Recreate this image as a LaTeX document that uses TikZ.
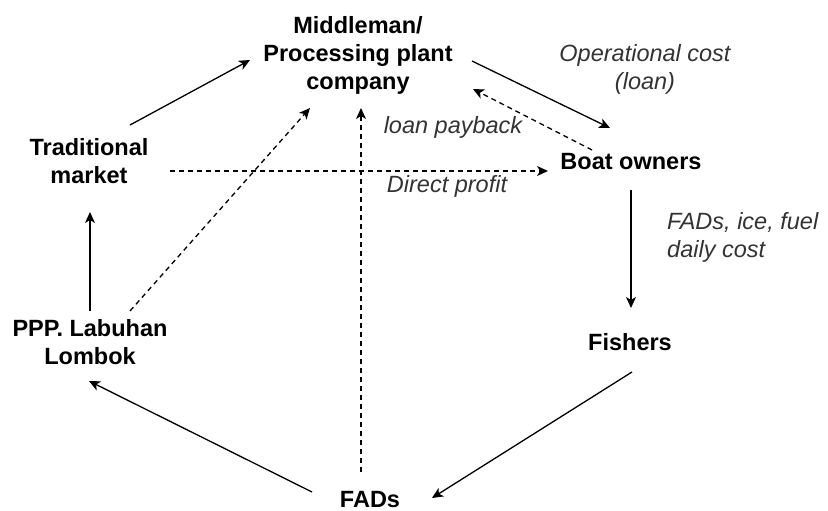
\documentclass[tikz,border=0pt]{standalone}
\usepackage{fontspec}
\setmainfont{Liberation Sans}
\usetikzlibrary{arrows.meta,calc}
\definecolor{lblgray}{HTML}{333333}
\begin{document}
\begin{tikzpicture}[x=1pt,y=-1pt,
  actor/.style={font=\fontsize{23.5}{28}\selectfont\bfseries, align=center, inner sep=0pt, text=black},
  lbl/.style={font=\fontsize{23.5}{28}\selectfont\itshape, inner sep=0pt, text=lblgray},
  flow/.style={line width=1.3pt, -{Stealth[length=11pt,width=10pt,inset=3pt]}},
  dflow/.style={flow, dash pattern=on 5pt off 4pt}]
\useasboundingbox (0,0) rectangle (828,511);
\node[actor] (mid) at (358,55) {Middleman/\\Processing plant\\company};
\node[actor] (trad) at (89,161) {Traditional\\market};
\node[actor] (ppp) at (90,342) {PPP. Labuhan\\Lombok};
\node[actor] (boat) at (631,162) {Boat owners};
\node[actor] (fish) at (630,342) {Fishers};
\node[actor,anchor=base] (fads) at (370,507) {FADs};
\node[lbl,align=center] (op) at (645,69) {Operational cost\\(loan)};
\node[lbl] (pay) at (453,127) {loan payback};
\node[lbl] (dp) at (447,186) {Direct profit};
\node[lbl,align=left,anchor=north west] (fic) at (667,212) {FADs, ice, fuel\\daily cost};
% connectors
\draw[flow] ($(trad)+(41,-36)$) -- ($(mid)+(-108,5)$);
\draw[flow] ($(mid)+(114,6)$) -- ($(boat)+(-21,-34)$);
\draw[dflow] ($(boat)+(-39,-12)$) -- ($(mid)+(115,34)$);
\draw[dflow] ($(trad)+(81,10)$) -- ($(boat)+(-83,9)$);
\draw[flow] ($(boat)+(0,28)$) -- ($(fish)+(1,-34)$);
\draw[flow] ($(fish)+(2,30)$) -- ($(fads.base)+(62,-9)$);
\draw[flow] ($(fads.base)+(-58,-15)$) -- ($(ppp)+(-1,39)$);
\draw[flow] ($(ppp)+(0,-31)$) -- ($(trad)+(1,51)$);
\draw[dflow] ($(ppp)+(40,-31)$) -- ($(mid)+(-48,53)$);
\draw[dflow] ($(fads.base)+(-9,-35)$) -- ($(mid)+(3,53)$);
\end{tikzpicture}
\end{document}
